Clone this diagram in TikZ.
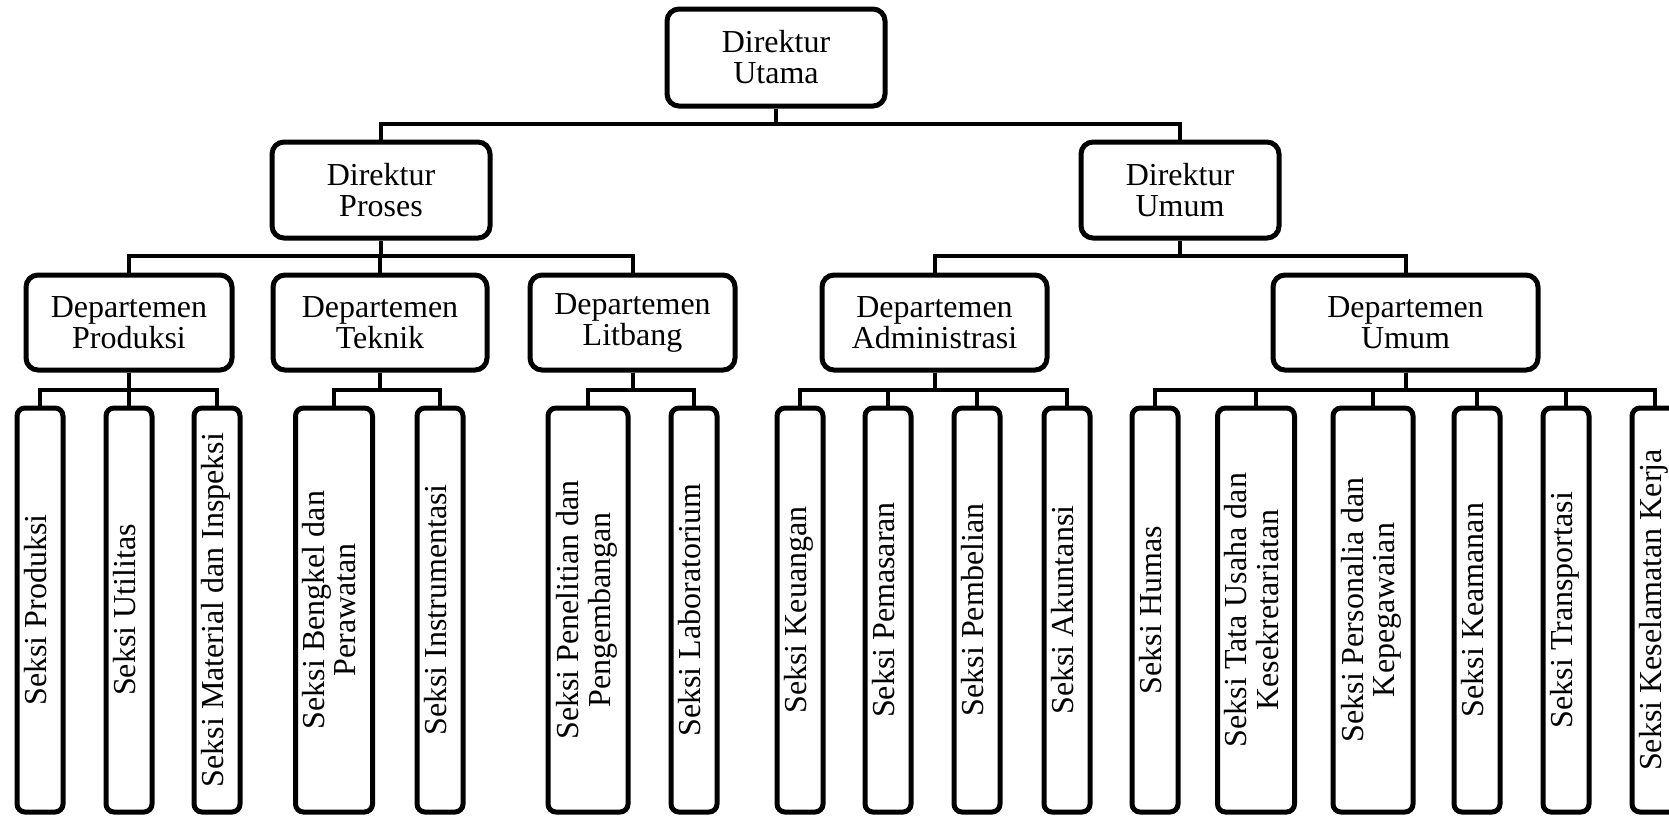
\documentclass[tikz,border=0pt]{standalone}
\usepackage{fontspec}
\setmainfont{Liberation Serif}
\begin{document}
\begin{tikzpicture}[x=0.5pt,y=-0.5pt,
  box/.style={draw=black, line width=2.5pt, rounded corners=6pt, fill=white,
    align=center, inner sep=0pt, text=black,
    font=\fontsize{16}{15.5}\selectfont},
  dirbox/.style={box, minimum height=48pt},
  deptbox/.style={box, minimum height=47.5pt},
  seksi/.style={box, rounded corners=4pt, minimum height=202pt, minimum width=23pt},
  seksiwide/.style={seksi, minimum width=38.5pt},
  conn/.style={line width=2pt}]
\fill[white] (0,0) rectangle (1669,816);
\clip (0,0) rectangle (1669,816);
\useasboundingbox (0,0) rectangle (1669,816);

% bar levels
\coordinate (b1) at (0,124);
\coordinate (b2) at (0,256);
\coordinate (b3) at (0,390);

% directors
\node[dirbox, minimum width=109pt, minimum height=48.5pt] (utama) at (776,57.5) {Direktur\\Utama};
\node[dirbox, minimum width=109pt] (proses) at (381,190) {Direktur\\Proses};
\node[dirbox, minimum width=99pt] (dirumum) at (1180,190) {Direktur\\Umum};

% departments
\node[deptbox, minimum width=103pt] (produksi) at (129,322.5) {Departemen\\Produksi};
\node[deptbox, minimum width=107pt] (teknik) at (380,322.5) {Departemen\\Teknik};
\node[deptbox, minimum width=102.5pt] (litbang) at (632.5,322.5) {Departemen\\Litbang};
\node[deptbox, minimum width=112.5pt] (admin) at (934.5,322.5) {Departemen\\Administrasi};
\node[deptbox, minimum width=132.5pt] (deptumum) at (1405.5,322.5) {Departemen\\Umum};

% sections
\newcommand{\vtext}[1]{\rotatebox{90}{\begin{tabular}{@{}c@{}}#1\end{tabular}}}
\node[seksi] (s1) at (40,610) {\vtext{Seksi Produksi}};
\node[seksi] (s2) at (129,610) {\vtext{Seksi Utilitas}};
\node[seksi] (s3) at (217,610) {\vtext{Seksi Material dan Inspeksi}};
\node[seksiwide] (s4) at (334,610) {\vtext{Seksi Bengkel dan\\Perawatan}};
\node[seksi] (s5) at (440,610) {\vtext{Seksi Instrumentasi}};
\node[seksiwide, minimum width=40pt] (s6) at (588,610) {\vtext{Seksi Penelitian dan\\Pengembangan}};
\node[seksi] (s7) at (694,610) {\vtext{Seksi Laboratorium}};
\node[seksi] (s8) at (800,610) {\vtext{Seksi Keuangan}};
\node[seksi] (s9) at (888,610) {\vtext{Seksi Pemasaran}};
\node[seksi] (s10) at (977,610) {\vtext{Seksi Pembelian}};
\node[seksi] (s11) at (1067,610) {\vtext{Seksi Akuntansi}};
\node[seksi] (s12) at (1155,610) {\vtext{Seksi Humas}};
\node[seksiwide] (s13) at (1256,610) {\vtext{Seksi Tata Usaha dan\\Kesekretariatan}};
\node[seksiwide, minimum width=40pt] (s14) at (1373,610) {\vtext{Seksi Personalia dan\\Kepegawaian}};
\node[seksi] (s15) at (1477,610) {\vtext{Seksi Keamanan}};
\node[seksi] (s16) at (1566,610) {\vtext{Seksi Transportasi}};
\node[seksi] (s17) at (1655,610) {\vtext{Seksi Keselamatan Kerja}};

% connectors
\foreach \p/\c in {utama/proses, utama/dirumum}
  \draw[conn] (\p.south) -- (\p.south |- b1) -| (\c.north);
\foreach \p/\c in {proses/produksi, proses/teknik, proses/litbang,
                   dirumum/admin, dirumum/deptumum}
  \draw[conn] (\p.south) -- (\p.south |- b2) -| (\c.north);
\foreach \p/\c in {produksi/s1, produksi/s2, produksi/s3,
                   teknik/s4, teknik/s5, litbang/s6, litbang/s7,
                   admin/s8, admin/s9, admin/s10, admin/s11,
                   deptumum/s12, deptumum/s13, deptumum/s14,
                   deptumum/s15, deptumum/s16, deptumum/s17}
  \draw[conn] (\p.south) -- (\p.south |- b3) -| (\c.north);
\end{tikzpicture}
\end{document}
